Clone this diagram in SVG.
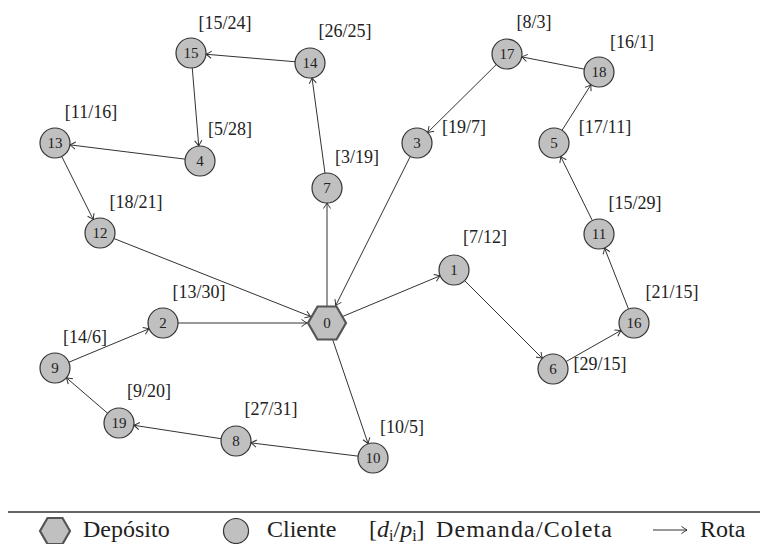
<svg xmlns="http://www.w3.org/2000/svg" width="764" height="544" viewBox="0 0 764 544">
<style>
text{font-family:"Liberation Serif","DejaVu Serif","Times New Roman",serif}
.node circle{fill:#c0c0c0;stroke:#333;stroke-width:1.2}
.depot polygon{fill:#c0c0c0;stroke:#555;stroke-width:2.2}
.nl{font-size:15px;fill:#222;text-anchor:middle;dominant-baseline:central}
.lab{font-size:18px;fill:#222;text-anchor:middle}
.leg{font-size:24px;fill:#222}
#edges line{stroke:#333;stroke-width:1;marker-end:url(#arr)}
</style>
<defs>
<marker id="arr" markerUnits="userSpaceOnUse" viewBox="-7 -5 8 10" refX="0" refY="0" markerWidth="8" markerHeight="10" orient="auto">
<path d="M-5.5,-3.6 Q-1.8,-0.9 0,0 Q-1.8,0.9 -5.5,3.6" fill="none" stroke="#333" stroke-width="1"/>
</marker>
</defs>
<rect width="764" height="544" fill="#fff"/>
<g id="edges">
<line x1="327" y1="306.5" x2="327" y2="203"/>
<line x1="324.98" y1="173.14" x2="312.02" y2="77.86"/>
<line x1="295.05" y1="61.74" x2="205.95" y2="54.26"/>
<line x1="192.25" y1="67.95" x2="198.75" y2="146.05"/>
<line x1="185.11" y1="159.15" x2="69.89" y2="144.85"/>
<line x1="61.71" y1="156.42" x2="93.29" y2="219.58"/>
<line x1="113.94" y1="238.53" x2="310.73" y2="316.55"/>
<line x1="410.29" y1="156.42" x2="335.68" y2="305.65"/>
<line x1="496.33" y1="64.55" x2="427.67" y2="132.45"/>
<line x1="584.28" y1="69.12" x2="521.72" y2="56.88"/>
<line x1="562.03" y1="130.33" x2="590.97" y2="84.67"/>
<line x1="592.35" y1="220.55" x2="560.65" y2="156.45"/>
<line x1="628.51" y1="309.04" x2="604.49" y2="247.96"/>
<line x1="566.04" y1="361.59" x2="620.96" y2="330.41"/>
<line x1="464.61" y1="280.61" x2="542.39" y2="358.39"/>
<line x1="343.06" y1="316.30" x2="440.16" y2="275.78"/>
<line x1="178" y1="323" x2="307" y2="323"/>
<line x1="68.85" y1="362.23" x2="149.15" y2="328.77"/>
<line x1="107.62" y1="413.22" x2="66.38" y2="377.78"/>
<line x1="221.17" y1="438.72" x2="133.83" y2="425.28"/>
<line x1="358.11" y1="456.15" x2="250.89" y2="442.85"/>
<line x1="332.8" y1="340.04" x2="368.16" y2="443.8"/>
</g>
<g id="n0" class="depot"><polygon points="346,323 336.5,306.5 317.5,306.5 308,323 317.5,339.5 336.5,339.5"/><text class="nl" x="327" y="323">0</text></g>
<g id="n1" class="node"><circle cx="454" cy="270" r="15"/><text class="nl" x="454" y="270">1</text></g>
<g id="n2" class="node"><circle cx="163" cy="323" r="15"/><text class="nl" x="163" y="323">2</text></g>
<g id="n3" class="node"><circle cx="417" cy="143" r="15"/><text class="nl" x="417" y="143">3</text></g>
<g id="n4" class="node"><circle cx="200" cy="161" r="15"/><text class="nl" x="200" y="161">4</text></g>
<g id="n5" class="node"><circle cx="554" cy="143" r="15"/><text class="nl" x="554" y="143">5</text></g>
<g id="n6" class="node"><circle cx="553" cy="369" r="15"/><text class="nl" x="553" y="369">6</text></g>
<g id="n7" class="node"><circle cx="327" cy="188" r="15"/><text class="nl" x="327" y="188">7</text></g>
<g id="n8" class="node"><circle cx="236" cy="441" r="15"/><text class="nl" x="236" y="441">8</text></g>
<g id="n9" class="node"><circle cx="55" cy="368" r="15"/><text class="nl" x="55" y="368">9</text></g>
<g id="n10" class="node"><circle cx="373" cy="458" r="15"/><text class="nl" x="373" y="458">10</text></g>
<g id="n11" class="node"><circle cx="599" cy="234" r="15"/><text class="nl" x="599" y="234">11</text></g>
<g id="n12" class="node"><circle cx="100" cy="233" r="15"/><text class="nl" x="100" y="233">12</text></g>
<g id="n13" class="node"><circle cx="55" cy="143" r="15"/><text class="nl" x="55" y="143">13</text></g>
<g id="n14" class="node"><circle cx="310" cy="63" r="15"/><text class="nl" x="310" y="63">14</text></g>
<g id="n15" class="node"><circle cx="191" cy="53" r="15"/><text class="nl" x="191" y="53">15</text></g>
<g id="n16" class="node"><circle cx="634" cy="323" r="15"/><text class="nl" x="634" y="323">16</text></g>
<g id="n17" class="node"><circle cx="507" cy="54" r="15"/><text class="nl" x="507" y="54">17</text></g>
<g id="n18" class="node"><circle cx="599" cy="72" r="15"/><text class="nl" x="599" y="72">18</text></g>
<g id="n19" class="node"><circle cx="119" cy="423" r="15"/><text class="nl" x="119" y="423">19</text></g>
<g id="labels">
<text class="lab" x="485" y="243">[7/12]</text>
<text class="lab" x="199" y="298">[13/30]</text>
<text class="lab" x="464" y="133">[19/7]</text>
<text class="lab" x="230" y="135">[5/28]</text>
<text class="lab" x="605" y="133">[17/11]</text>
<text class="lab" x="600" y="370">[29/15]</text>
<text class="lab" x="357" y="163">[3/19]</text>
<text class="lab" x="271" y="415">[27/31]</text>
<text class="lab" x="85" y="343">[14/6]</text>
<text class="lab" x="402" y="433">[10/5]</text>
<text class="lab" x="635" y="209">[15/29]</text>
<text class="lab" x="136" y="208">[18/21]</text>
<text class="lab" x="91" y="118">[11/16]</text>
<text class="lab" x="345" y="37">[26/25]</text>
<text class="lab" x="225" y="29">[15/24]</text>
<text class="lab" x="672" y="298">[21/15]</text>
<text class="lab" x="534" y="28">[8/3]</text>
<text class="lab" x="632" y="48">[16/1]</text>
<text class="lab" x="149" y="397">[9/20]</text>
</g>
<g id="legend">
<line x1="8" y1="512" x2="760" y2="512" stroke="#333" stroke-width="1.3"/>
<polygon points="70,531 62.5,518 47.5,518 40,531 47.5,544 62.5,544" fill="#c0c0c0" stroke="#555" stroke-width="2.2"/>
<text class="leg" x="83" y="537">Depósito</text>
<circle cx="236" cy="531" r="12.5" fill="#c0c0c0" stroke="#333" stroke-width="1.2"/>
<text class="leg" x="267" y="537">Cliente</text>
<text class="leg" x="369" y="537">[<tspan font-style="italic">d</tspan><tspan font-size="16" dy="4">i</tspan><tspan dy="-4">/</tspan><tspan font-style="italic">p</tspan><tspan font-size="16" dy="4">i</tspan><tspan dy="-4">]</tspan></text>
<text class="leg" x="436" y="537" textLength="176" lengthAdjust="spacing">Demanda/Coleta</text>
<line x1="653" y1="530" x2="687" y2="530" stroke="#333" stroke-width="1" marker-end="url(#arr)"/>
<text class="leg" x="700" y="537">Rota</text>
</g>
</svg>
